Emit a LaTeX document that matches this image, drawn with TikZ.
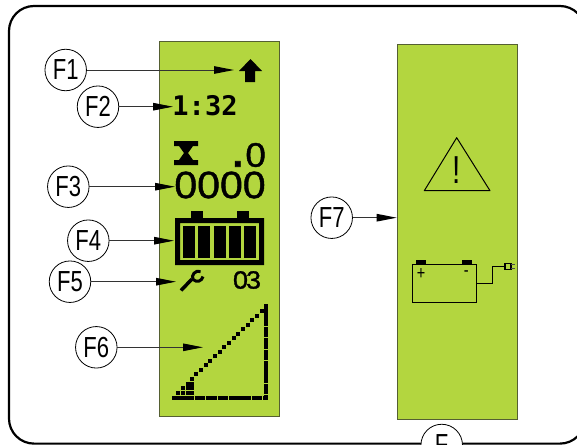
\documentclass[tikz,border=0pt]{standalone}
\usepackage{fontspec}
\setmainfont[FakeStretch=0.76]{Liberation Sans}
\newfontfamily\lcdfont[FakeStretch=1.08, FakeBold=1.2]{Liberation Sans}
\newfontfamily\clockfont{DejaVu Sans Mono}
\definecolor{lcdgreen}{RGB}{179, 214, 63}
\definecolor{lcdedge}{RGB}{85, 95, 50}
\usetikzlibrary{arrows.meta, positioning}

\begin{document}
\begin{tikzpicture}[
  x=1pt, y=-1pt,
  lcdbox/.style={draw=lcdedge, fill=lcdgreen, line width=1pt, minimum width=120pt, minimum height=374.5pt, inner sep=0pt},
  fcircle/.style={circle, draw=black, fill=white, line width=0.8pt, minimum size=41.5pt, inner sep=0pt, font=\fontsize{29}{29}\selectfont},
  farrow/.style={draw=black!80, line width=1pt, -{Triangle[length=20pt, width=7.5pt, black]}},
  lcdtext/.style={inner sep=0pt, text=black},
  pixel/.style={fill=black, draw=none},
  thinline/.style={draw=black, line width=1pt}
]
  \useasboundingbox (0,0) rectangle (577,444);
  \draw[line width=2.2pt, rounded corners=25pt, black] (9,6) rectangle (585,443.6);

  \node[lcdbox] (lcdmain) at (219.7,228.9) {};
  \node[lcdbox] (lcdalert) at (457.2,231.9) {};

  \fill[pixel] (250.5,59) -- (262,71) -- (255,71) -- (255,82) -- (245,82) -- (245,71) -- (239,71) -- cycle;
  \node[lcdtext, font=\clockfont\bfseries\fontsize{27}{27}\selectfont] (clock) at (205,105.5) {1:32};
  \fill[pixel] (174,141) -- (198,141) -- (198,146) -- (193,146) -- (188,153) -- (193,160) -- (198,160) -- (198,165) -- (174,165) -- (174,160) -- (179,160) -- (184,153) -- (179,146) -- (174,146) -- cycle;
  \node[lcdtext, font=\lcdfont\fontsize{34}{34}\selectfont] (trip) at (248,155) {\scalebox{1.5}{.}0};
  \node[lcdtext, font=\lcdfont\fontsize{38}{38}\selectfont] (hours) at (220,185) {0000};

  \fill[pixel] (191,211) rectangle (203,219);
  \fill[pixel] (237,211) rectangle (249,219);
  \fill[pixel, even odd rule] (175,218) rectangle (264,265) (180,223) rectangle (259,260);
  \foreach \cellx in {183,198,214,229,244}
    \fill[pixel] (\cellx,226) rectangle (\cellx+12,258);

  \draw[line width=3.5pt] (181,290.5) -- (192,279);
  \draw[line width=3pt] (200.5,271.5) .. controls (195,270) and (191,275) .. (193,279.5) .. controls (197,283) and (202,281) .. (203,276.5);
  \node[lcdtext, font=\lcdfont\fontsize{25}{25}\selectfont] (service) at (247,280) {0\kern-2pt 3};

  \draw[line width=4pt, dash pattern=on 10.5pt off 0.9pt] (172,398) -- (268,398);
  \draw[line width=4pt, dash pattern=on 10.5pt off 0.9pt] (266,304) -- (266,400);
  \foreach \i in {0,...,15}
    \fill[pixel] (189.7+\i*4.67,377-\i*4.53) rectangle ++(4,4);
  \fill[pixel] (186,382) rectangle (194,390);
  \fill[pixel] (181,386) rectangle (185,390);
  \foreach \blockx/\blockw in {176/4,181/4,186/8}
    \fill[pixel] (\blockx,391) rectangle ++(\blockw,4);

  \draw[thinline, line join=round] (456.7,137.7) -- (490,190.7) -- (424.3,190.7) -- cycle;
  \node[lcdtext, font=\fontsize{39}{39}\selectfont] (warnmark) at (456.7,170) {!};

  \draw[thinline] (412,264.3) rectangle (476.7,302.3);
  \fill[pixel] (416,260) rectangle (426,264.3);
  \fill[pixel] (462,260) rectangle (472,264.3);
  \node[lcdtext, font=\fontsize{19}{19}\selectfont] (plusmark) at (421,273.7) {+};
  \node[lcdtext, font=\fontsize{19}{19}\selectfont] (minusmark) at (466.3,273.7) {-};
  \draw[thinline] (476.7,283) -- (492,283) -- (492,266) -- (505,266);
  \draw[thinline, line width=1.2pt] (505,263.3) rectangle (511,269.7);
  \draw[draw=black!70, line width=0.8pt] (511,264.7) -- (515,264.7) (511,268.2) -- (515,268.2);

  \node[fcircle] (f1) at (65.7,70) {F1};
  \node[fcircle] (f2) at (98,106.7) {F2};
  \node[fcircle] (f3) at (68.3,186.7) {F3};
  \node[fcircle] (f4) at (88.3,240.7) {F4};
  \node[fcircle] (f5) at (70,281.7) {F5};
  \node[fcircle] (f6) at (96.3,347.3) {F6};
  \node[fcircle] (f7) at (331.7,217.7) {F7};
  \node[fcircle] (f8) at (441.7,445) {F};

  \coordinate (e1) at (234,70);
  \coordinate (e2) at (173,106.7);
  \coordinate (e3) at (175,186.7);
  \coordinate (e4) at (174,240.7);
  \coordinate (e5) at (176,281.7);
  \coordinate (e6) at (203,347.3);

  \draw[farrow] (f1) -- (e1);
  \draw[farrow] (f2) -- (e2);
  \draw[farrow] (f3) -- (e3);
  \draw[farrow] (f4) -- (e4);
  \draw[farrow] (f5) -- (e5);
  \draw[farrow] (f6) -- (e6);
  \draw[farrow] (f7) -- (f7 -| lcdalert.west);
\end{tikzpicture}
\end{document}
